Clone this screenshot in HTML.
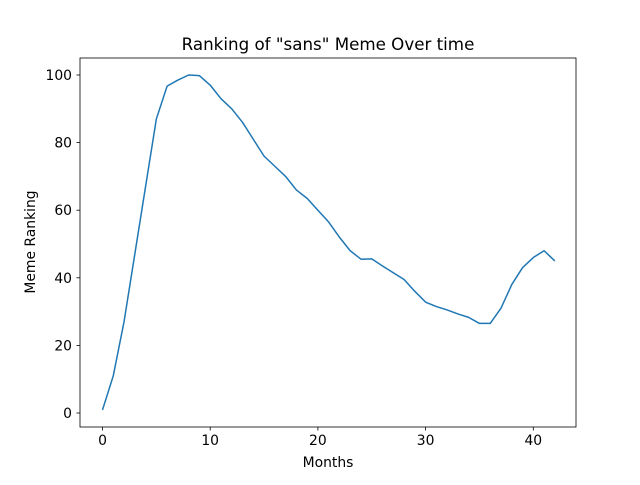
<!DOCTYPE html>
<html><head><meta charset="utf-8"><style>
body{margin:0;background:#fff}
svg text{font-family:"DejaVu Sans","Liberation Sans",sans-serif;fill:#000}
</style></head><body>
<svg id="chart" width="640" height="480">
<rect width="640" height="480" fill="#fff"/>
<g id="ticks"></g>
<path id="line" fill="none" stroke="#1f77b4" stroke-width="1.5" stroke-linejoin="round"/>
<rect x="80" y="58" width="496" height="369" fill="none" stroke="#000" stroke-width="0.8"/>
<text x="328" y="50" font-size="16.7" text-anchor="middle">Ranking of "sans" Meme Over time</text>
<text x="328" y="467" font-size="13.9" text-anchor="middle">Months</text>
<text x="0" y="0" font-size="13.9" text-anchor="middle" transform="translate(35,242) rotate(-90)">Meme Ranking</text>
</svg>
<script>
const ranking = [0.9,11,27,47,67,87,96.7,98.5,100,99.8,97,93,90,86,81,76,73,70,66,63.5,60,56.5,52,48,45.5,45.6,43.5,41.5,39.5,36,32.8,31.5,30.5,29.3,28.3,26.5,26.5,31,38,43,46,48,45];
const xTicks = [0,10,20,30,40];
const yTicks = [0,20,40,60,80,100];
const xs = v => 102.5 + v * 10.77;
const ys = v => 413 - v * 3.38;
const NS = "http://www.w3.org/2000/svg";
let d = "";
ranking.forEach((v,i)=>{ d += (i?"L":"M") + xs(i).toFixed(2) + "," + ys(v).toFixed(2); });
document.getElementById('line').setAttribute('d', d);
const g = document.getElementById('ticks');
xTicks.forEach(t=>{
  const l = document.createElementNS(NS,'line');
  l.setAttribute('x1',xs(t));l.setAttribute('x2',xs(t));l.setAttribute('y1',427);l.setAttribute('y2',430.5);
  l.setAttribute('stroke','#000');l.setAttribute('stroke-width','0.8');
  
  
  g.appendChild(l);
  const tx = document.createElementNS(NS,'text');
  tx.setAttribute('x',xs(t));tx.setAttribute('y',445);tx.setAttribute('font-size','13.9');tx.setAttribute('text-anchor','middle');
  tx.textContent = t;
  
  
  g.appendChild(tx);
});
yTicks.forEach(t=>{
  const l = document.createElementNS(NS,'line');
  l.setAttribute('x1',76.5);l.setAttribute('x2',80);l.setAttribute('y1',ys(t));l.setAttribute('y2',ys(t));
  l.setAttribute('stroke','#000');l.setAttribute('stroke-width','0.8');
  
  
  g.appendChild(l);
  const tx = document.createElementNS(NS,'text');
  tx.setAttribute('x',72);tx.setAttribute('y',ys(t)+5);tx.setAttribute('font-size','13.9');tx.setAttribute('text-anchor','end');
  tx.textContent = t;
  
  
  g.appendChild(tx);
});
</script>
</body></html>
